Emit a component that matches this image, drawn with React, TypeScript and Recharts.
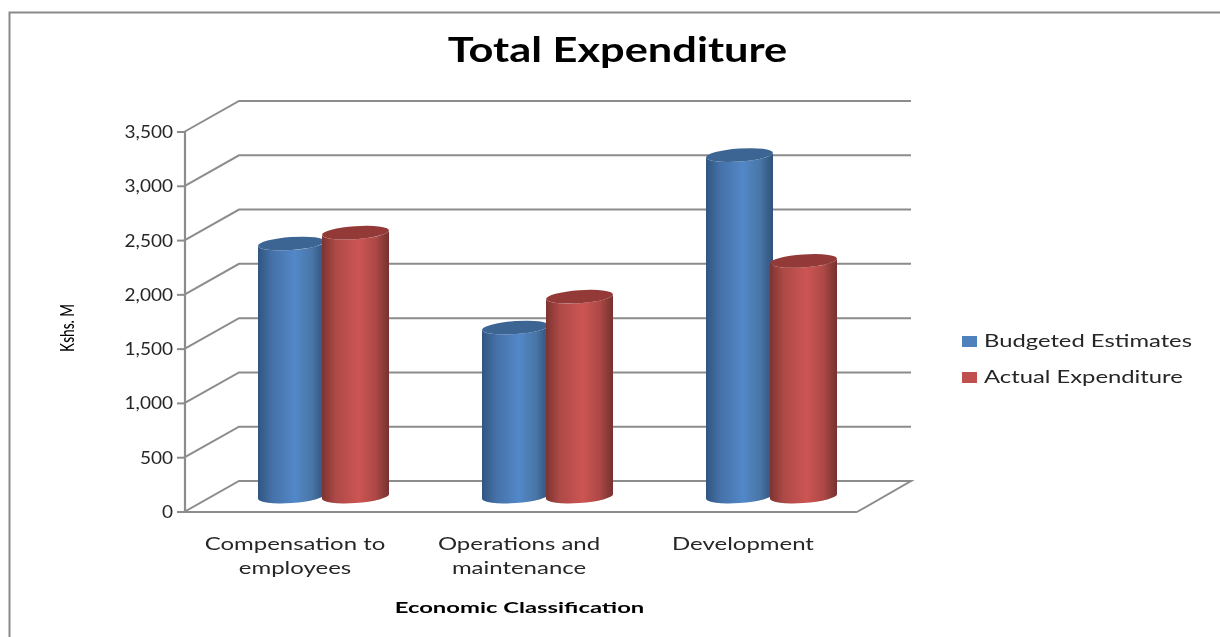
import React from "react";
import { BarChart, Bar, XAxis, YAxis, CartesianGrid, Legend } from "recharts";

const categories = ["Compensation to\nemployees", "Operations and\nmaintenance", "Development"];
const budgeted = [2330, 1556, 3145];
const actual = [2430, 1840, 2170];
const yTicks = [0, 500, 1000, 1500, 2000, 2500, 3000, 3500];
const seriesNames = ["Budgeted Estimates", "Actual Expenditure"];
const legendColors = ["#4f81bd", "#c0504d"];
const capColors = ["#3d6593", "#933a38"];
const data = categories.map((c, i) => ({ category: c, budgeted: budgeted[i], actual: actual[i] }));

const W = 1220, H = 637;
const LEFT = 185, RIGHT = 857, TOP = 132, BOTTOM = 512;
const DEPTH_X = 54, DEPTH_Y = 31;
const GRID = "#8c8c8c";
const TEXT = "#262626";
const FONT = "Lato, sans-serif";

function Stretch({ x, y, sx = 1, anchor = "middle", size, weight = 400, rotate = 0, color = TEXT, children }: any) {
  return (
    <text
      transform={`translate(${x},${y}) rotate(${rotate}) scale(${sx},1)`}
      textAnchor={anchor}
      fontFamily={FONT}
      fontSize={size}
      fontWeight={weight}
      fill={color}
    >
      {children}
    </text>
  );
}

function gridLine(props: any) {
  const { x1, x2, y1, key } = props;
  const floor = Math.abs(y1 - BOTTOM) < 1;
  const d = `M${x1 - 1},${y1} L${x1 + DEPTH_X},${y1 - DEPTH_Y} L${x2 + DEPTH_X},${y1 - DEPTH_Y}` +
    (floor ? ` L${x2},${y1}` : "");
  return <path key={key} d={d} fill="none" stroke={GRID} strokeWidth={2} />;
}

function YTick({ x, y, payload }: any) {
  return (
    <Stretch x={x - 2} y={y + 6} sx={1.12} anchor="end" size={17}>
      {Number(payload.value).toLocaleString("en-US")}
    </Stretch>
  );
}

function XTick({ x, y, payload }: any) {
  const lines = String(payload.value).split("\n");
  return (
    <g>
      {lines.map((l, i) => (
        <Stretch key={i} x={x - 2} y={y + 30 + i * 23.5} sx={1.37} size={17.5}>
          {l}
        </Stretch>
      ))}
    </g>
  );
}

function cylinder(gradient: string, cap: string) {
  return (props: any) => {
    const dx = 26, dy = -15.5, ry = 6.5, tilt = 2.3;
    const x = props.x + dx;
    const w = props.width;
    const top = props.y + dy;
    const base = props.y + props.height + dy;
    const rx = w / 2;
    const d =
      `M${x},${top + tilt} L${x},${base + tilt} ` +
      `A${rx},${ry} -4 0 0 ${x + w},${base - tilt} ` +
      `L${x + w},${top - tilt} ` +
      `A${rx},${ry} -4 0 1 ${x},${top + tilt} Z`;
    return (
      <g>
        <path d={d} fill={`url(#${gradient})`} />
        <ellipse cx={x + rx} cy={top} rx={rx} ry={ry} fill={cap} transform={`rotate(-4 ${x + rx} ${top})`} />
      </g>
    );
  };
}

function LegendBox({ payload }: any) {
  return (
    <div>
      {(payload || []).map((p: any, i: number) => (
        <div key={i} style={{ height: 36, position: "relative", whiteSpace: "nowrap" }}>
          <span style={{ position: "absolute", left: 0, top: 5, width: 15, height: 11, background: legendColors[i] }} />
          <span
            style={{
              position: "absolute", left: 22, top: -1, fontFamily: FONT, fontSize: 17.5, color: TEXT,
              transform: "scaleX(1.36)", transformOrigin: "left center",
            }}
          >
            {p.value}
          </span>
        </div>
      ))}
    </div>
  );
}

export default function App() {
  return (
    <div style={{ position: "absolute", left: 0, top: 0, width: W, height: H, overflow: "hidden", background: "#fff", filter: "blur(0.55px)" }}>
      <BarChart
        width={W}
        height={H}
        data={data}
        margin={{ top: TOP, left: 0, right: W - RIGHT, bottom: 0 }}
        barSize={67}
        barGap={-3}
        barCategoryGap={0}
      >
        <defs>
          <linearGradient id="blueCyl" x1="0" y1="0" x2="1" y2="0">
            <stop offset="0" stopColor="#30557f" />
            <stop offset="0.2" stopColor="#4470a6" />
            <stop offset="0.55" stopColor="#5288c8" />
            <stop offset="0.8" stopColor="#4a76a9" />
            <stop offset="1" stopColor="#2f5279" />
          </linearGradient>
          <linearGradient id="redCyl" x1="0" y1="0" x2="1" y2="0">
            <stop offset="0" stopColor="#7d3331" />
            <stop offset="0.2" stopColor="#ad4946" />
            <stop offset="0.55" stopColor="#cc5553" />
            <stop offset="0.8" stopColor="#ad4946" />
            <stop offset="1" stopColor="#763130" />
          </linearGradient>
        </defs>
        <path d={`M${W},12.5 L9.5,12.5 L9.5,${H}`} fill="none" stroke="#8a8a8a" strokeWidth={2} />
        <Stretch x={617.5} y={62} sx={1.24} size={35} weight={700} color="#000">Total Expenditure</Stretch>
        <Stretch x={519.5} y={613} sx={1.49} size={16} weight={700} color="#000">Economic Classification</Stretch>
        <Stretch x={74} y={328} sx={0.68} size={20} rotate={-90} weight={500} color="#000">Kshs. M</Stretch>
        <CartesianGrid horizontal={gridLine} vertical={false} syncWithTicks />
        <XAxis
          dataKey="category"
          height={H - BOTTOM}
          tick={<XTick />}
          tickLine={false}
          interval={0}
          axisLine={{ stroke: GRID, strokeWidth: 2.2 }}
        />
        <YAxis
          width={LEFT}
          domain={[0, 3500]}
          ticks={yTicks}
          interval={0}
          tick={<YTick />}
          tickSize={8}
          tickLine={{ stroke: GRID, strokeWidth: 2 }}
          axisLine={{ stroke: GRID, strokeWidth: 2.2 }}
        />
        <Legend
          layout="vertical"
          align="center"
          verticalAlign="middle"
          itemSorter={null}
          wrapperStyle={{ left: 962, top: 331, width: 250, right: "auto", bottom: "auto" }}
          content={<LegendBox />}
        />
        <Bar dataKey="budgeted" name={seriesNames[0]} fill="url(#blueCyl)" isAnimationActive={false} shape={cylinder("blueCyl", capColors[0])} />
        <Bar dataKey="actual" name={seriesNames[1]} fill="url(#redCyl)" isAnimationActive={false} shape={cylinder("redCyl", capColors[1])} />
      </BarChart>
    </div>
  );
}
